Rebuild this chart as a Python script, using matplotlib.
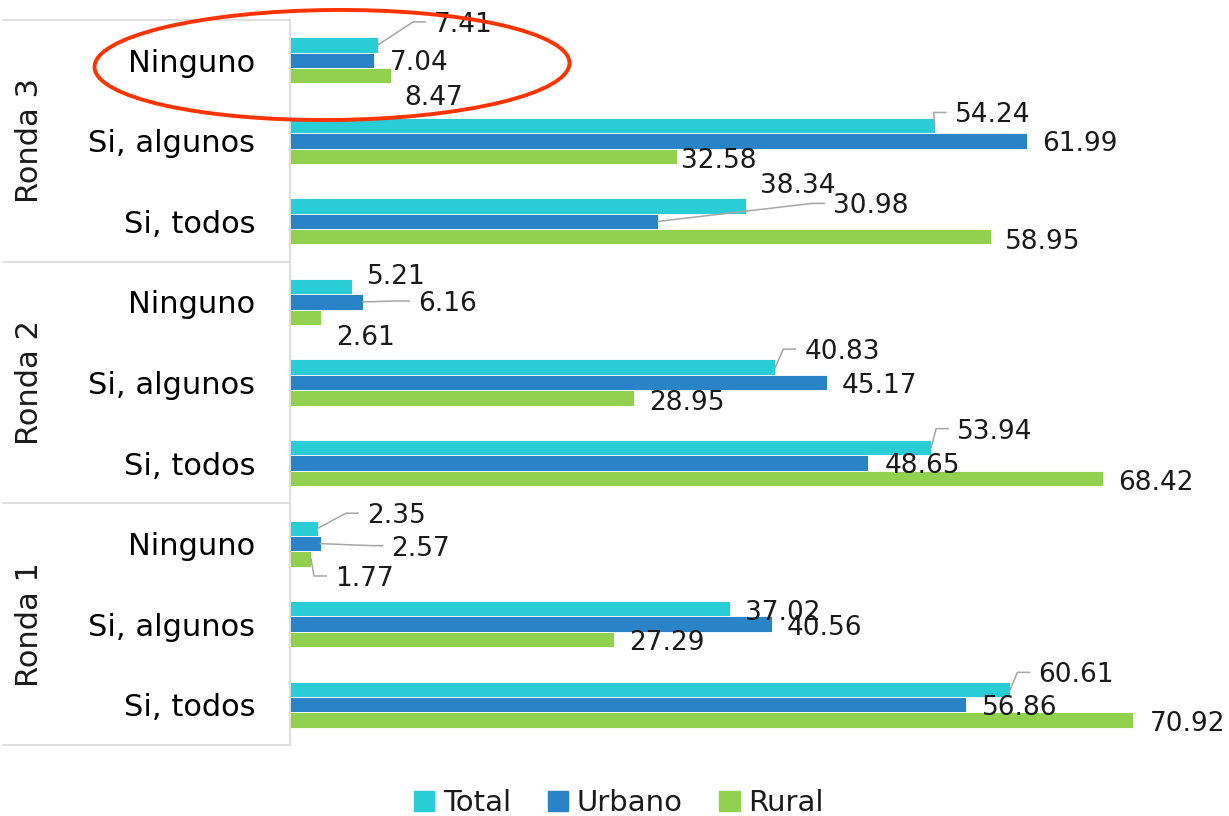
"""Horizontal grouped bars: Ninguno / Si, algunos / Si, todos per Ronda, split Total / Urbano / Rural."""

import matplotlib
matplotlib.use("Agg")
import matplotlib.pyplot as plt  # noqa: E402
from matplotlib.patches import Ellipse, Patch  # noqa: E402
from matplotlib.transforms import blended_transform_factory  # noqa: E402
import numpy as np  # noqa: E402

rounds = ["Ronda 3", "Ronda 2", "Ronda 1"]
answers = ["Ninguno", "Si, algunos", "Si, todos"]
total = [7.41, 54.24, 38.34, 5.21, 40.83, 53.94, 2.35, 37.02, 60.61]
urbano = [7.04, 61.99, 30.98, 6.16, 45.17, 48.65, 2.57, 40.56, 56.86]
rural = [8.47, 32.58, 58.95, 2.61, 28.95, 68.42, 1.77, 27.29, 70.92]
series_names = ["Total", "Urbano", "Rural"]

COL = {"Total": "#29CDD6", "Urbano": "#2A83C6", "Rural": "#92D050"}
GRID = "#D9D9D9"
LEAD = "#A6A6A6"

# label placement (pixels, relative to bar end) as moved by hand in the original; True = leader line
LBL = {
    "Total": [(56, -23, 1), (20, -13, 1), (14, -23, 0), (15, -13, 0), (29, -18, 1),
              (26, -19, 1), (49, -15, 1), (15, 1, 0), (28, -17, 1)],
    "Urbano": [(16, 0, 0), (15, 0, 0), (175, -18, 1), (55, -1, 1), (15, 0, 0),
               (16, 0, 0), (71, 2, 1), (15, 1, 0), (16, 0, 0)],
    "Rural": [(14, 19, 0), (4, 2, 0), (14, 2, 0), (15, 18, 0), (15, 2, 0),
              (15, 2, 0), (24, 17, 1), (15, 0, 0), (17, 1, 0)],
}

W, H = 1229, 816
plt.rcParams["font.family"] = ["DejaVu Sans"]
plt.rcParams["text.color"] = "#1A1A1A"


def main():
    fig = plt.figure(figsize=(W / 100, H / 100), dpi=100)
    ax = fig.add_axes([290 / W, 1 - 745 / H, 939 / W, 725 / H])
    ax.set_xlim(0, 79)
    ax.set_ylim(8.5, -0.5)

    y = np.arange(len(total))
    h = 0.191
    data = {"Total": total, "Urbano": urbano, "Rural": rural}
    for k, name in enumerate(series_names):
        ax.barh(y + (k - 1) * h, data[name], height=h, color=COL[name],
                edgecolor="white", linewidth=0.6)

    inv = ax.transData.inverted()
    for k, name in enumerate(series_names):
        for i, v in enumerate(data[name]):
            yc = i + (k - 1) * h
            sx, sy = ax.transData.transform((v, yc))
            dx, dy, lead = LBL[name][i]
            tx, ty = sx + dx, sy - dy
            px, py = inv.transform((tx, ty))
            ax.text(px, py, f"{v:.2f}", fontsize=19, ha="left", va="center_baseline",
                    clip_on=False, zorder=5)
            if lead:
                pts = inv.transform([(sx, sy), (tx - 21, ty), (tx - 9, ty)])
                ax.plot(pts[:, 0], pts[:, 1], color=LEAD, lw=1.1, clip_on=False, zorder=4)

    ax.set_yticks(y)
    ax.set_yticklabels(answers * len(rounds), fontsize=22)
    ax.tick_params(axis="y", length=0, pad=25)
    ax.set_xticks([])
    for s in ("top", "right", "bottom"):
        ax.spines[s].set_visible(False)
    ax.spines["left"].set_color(GRID)
    ax.spines["left"].set_linewidth(1.2)

    tr = blended_transform_factory(fig.transFigure, ax.transData)
    for b in (-0.5, 2.5, 5.5, 8.5):
        ax.plot([3 / W, 290 / W], [b, b], color=GRID, lw=1.2, transform=tr, clip_on=False)
    for j, r in enumerate(rounds):
        ax.text(30 / W, 3 * j + 1, r, rotation=90, fontsize=22, ha="center", va="center",
                transform=tr)

    fig.add_artist(Ellipse((332 / W, 1 - 65 / H), 475 / W, 110 / H, angle=0.8,
                           transform=fig.transFigure, fill=False, ec="#FF3300", lw=2.8))

    handles = [Patch(color=COL[n], label=n) for n in series_names]
    fig.legend(handles=handles, loc="center", bbox_to_anchor=(619 / W, 1 - 803 / H), ncol=3,
               frameon=False, fontsize=21, handlelength=0.7, handleheight=0.7,
               handletextpad=0.3, columnspacing=1.25)

    fig.savefig("out.png", dpi=100)
    plt.close(fig)


if __name__ == "__main__":
    main()
